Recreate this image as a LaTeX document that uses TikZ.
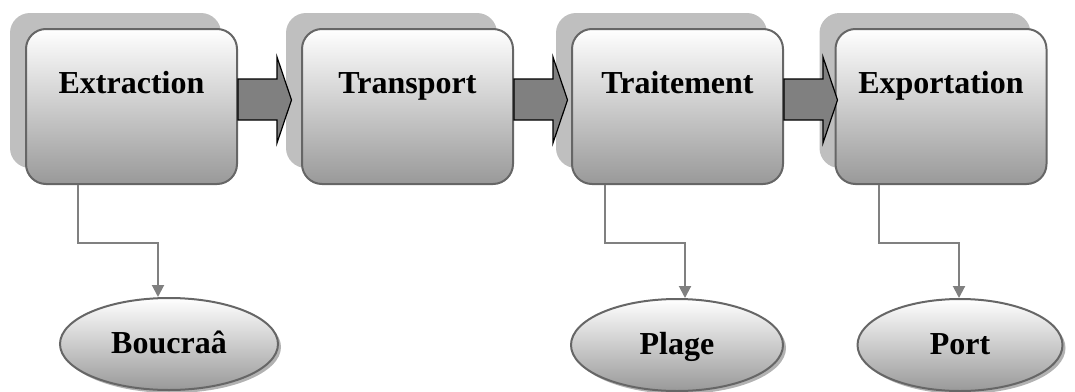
\documentclass[tikz,border=0pt]{standalone}
\usepackage{xcolor}
\usepackage{fontspec}
\setmainfont{Liberation Serif}
\usepackage{tikz}
\usetikzlibrary{calc,arrows.meta,shapes.geometric,shadows}
\tikzset{>={Triangle[width=12pt,length=12pt]}}
\tikzset{
  etape/.style={rectangle, rounded corners=20pt, draw=black!60, line width=2pt,
    top color=white, bottom color=gray!80, minimum width=211pt, inner xsep=0pt, inner ysep=0pt,
    text height=64pt, text depth=91pt, font=\bfseries\fontsize{32}{36}\selectfont,
    drop shadow={shadow xshift=-16pt, shadow yshift=16pt, fill=gray!50, opacity=1}},
  lieu/.style={ellipse, draw=black!60, line width=2pt, top color=white, bottom color=gray!80,
    minimum width=212pt, minimum height=92pt, inner sep=0pt, text height=24pt, text depth=6pt,
    font=\bfseries\fontsize{32}{36}\selectfont,
    drop shadow={shadow xshift=3pt, shadow yshift=-3pt, fill=gray!60, opacity=1}},
  fleche/.style={draw=black, line width=1.2pt, fill=gray},
  lien/.style={draw=gray, line width=2pt, ->}
}
\begin{document}
\begin{tikzpicture}[x=1pt,y=-1pt]
\useasboundingbox (0,0) rectangle (1075,391);

\node[etape] (extr) at (131.5,106.5) {Extraction};
\node[etape] (transp) at (407.5,106.5) {Transport};
\node[etape] (trait) at (677.5,106.5) {Traitement};
\node[etape] (export) at (941,106.5) {Exportation};

% grosses fleches entre les etapes
\foreach \e in {extr,transp,trait}
  \draw[fleche] ([yshift=27.5pt]\e.east) -- ++(39,0) -- ++(0,-22) -- ++(14.5,43) -- ++(-14.5,43) -- ++(0,-23) -- ++(-39,0) -- cycle;

\node[lieu, minimum width=218pt] (boucraa) at (169,344) {Boucraâ};
\node[lieu] (plage) at (677,345) {Plage};
\node[lieu, minimum width=205pt] (port) at (960,345) {Port};

\draw[lien] ([xshift=-53.5pt]extr.south) -- ++(0,58) -| ([xshift=-11pt]boucraa.north);
\draw[lien] ([xshift=-72.5pt]trait.south) -- ++(0,58) -| ([xshift=8pt]plage.north);
\draw[lien] ([xshift=-62pt]export.south) -- ++(0,58) -| ([xshift=-1pt]port.north);

\end{tikzpicture}
\end{document}
